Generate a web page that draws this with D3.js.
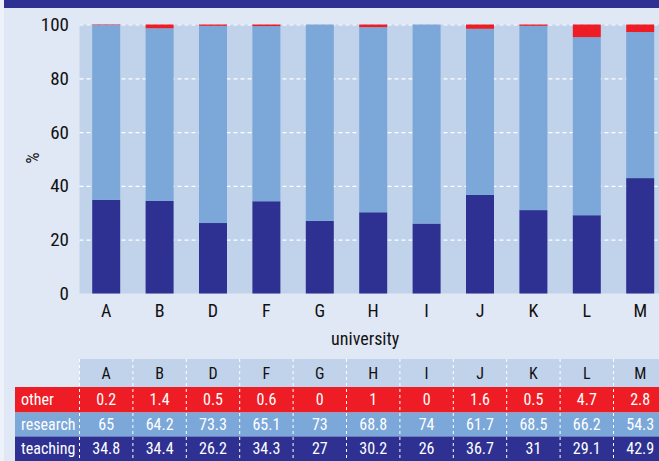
<!DOCTYPE html>
<html>
<head>
<meta charset="utf-8">
<script src="https://cdn.jsdelivr.net/npm/d3@7"></script>
<style>
  html, body { margin: 0; padding: 0; background: #e1e8f5; }
  svg { display: block; }
  text { font-family: "Liberation Sans Narrow", "Arial Narrow", "Roboto Condensed", "Liberation Sans", sans-serif; }
</style>
</head>
<body>
<svg id="chart" width="659" height="461"></svg>
<script>
// Share of staff time by activity, per university (%)
const universities = ["A", "B", "D", "F", "G", "H", "I", "J", "K", "L", "M"];
const teaching = [34.8, 34.4, 26.2, 34.3, 27, 30.2, 26, 36.7, 31, 29.1, 42.9];
const research = [65, 64.2, 73.3, 65.1, 73, 68.8, 74, 61.7, 68.5, 66.2, 54.3];
const other    = [0.2, 1.4, 0.5, 0.6, 0, 1, 0, 1.6, 0.5, 4.7, 2.8];
const yTicks = [0, 20, 40, 60, 80, 100];

const colors = { teaching: "#2e3192", research: "#7ba7d9", other: "#ee1c25" };
const W = 659, H = 461;
const svg = d3.select("#chart");

// page background, top band and left edge
svg.append("rect").attr("width", W).attr("height", H).attr("fill", "#e1e8f5");
svg.append("rect").attr("width", W).attr("height", 8).attr("fill", "#2e3192");
svg.append("rect").attr("width", 4).attr("height", H).attr("fill", "#edf1f9");

const x = d3.scaleBand().domain(universities).range([79.5, 79.5 + 53.4 * universities.length]).padding(0);
const y = d3.scaleLinear().domain([0, 100]).range([293.5, 24.5]);
const barW = 28;

// plot area
svg.append("rect").attr("x", x.range()[0]).attr("y", y(100))
  .attr("width", x.range()[1] - x.range()[0]).attr("height", y(0) - y(100))
  .attr("fill", "#c1d2eb");

// gridlines
const yAxis = d3.axisLeft(y).tickValues(yTicks).tickSize(-(x.range()[1] - x.range()[0])).tickPadding(10);
const gy = svg.append("g").attr("transform", `translate(${x.range()[0]},0)`).call(yAxis);
gy.select(".domain").remove();
gy.selectAll(".tick line").attr("stroke", "#ffffff").attr("stroke-width", 1.2).attr("stroke-dasharray", "4,3")
  .filter(d => d === 0).remove();
gy.selectAll(".tick text").attr("font-size", 19).attr("fill", "#111").attr("dx", -0.5);

// stacked bars
const rows = universities.map((u, i) => ({ u, teaching: teaching[i], research: research[i], other: other[i] }));
const keys = ["teaching", "research", "other"];
const stack = d3.stack().keys(keys)(rows);
svg.append("g").selectAll("g").data(stack).join("g")
  .attr("fill", s => colors[s.key])
  .selectAll("rect").data(s => s).join("rect")
  .attr("x", d => x(d.data.u) + (x.bandwidth() - barW) / 2)
  .attr("y", d => y(d[1]))
  .attr("width", barW)
  .attr("height", d => y(d[0]) - y(d[1]));

// x axis labels
const xAxis = d3.axisBottom(x).tickSize(0).tickPadding(11);
const gx = svg.append("g").attr("transform", `translate(0,${y(0)})`).call(xAxis);
gx.select(".domain").remove();
gx.selectAll(".tick text").attr("font-size", 18).attr("fill", "#111");

// axis titles
svg.append("text").attr("x", x(universities[0]) + (x.range()[1] - x.range()[0]) / 2 - 8).attr("y", 345)
  .attr("text-anchor", "middle").attr("font-size", 18).attr("fill", "#111").text("university");
svg.append("text").attr("transform", `translate(39,158) rotate(-90)`)
  .attr("text-anchor", "middle").attr("font-size", 18).attr("fill", "#111").text("%");

// data table
const rowTop = [359, 387, 412.5, 436.5];
const rowBottom = [387, 412.5, 436.5, 461];
const tableRows = [
  { name: "other", values: other, fill: colors.other },
  { name: "research", values: research, fill: colors.research },
  { name: "teaching", values: teaching, fill: colors.teaching }
];
const table = svg.append("g");
table.append("rect").attr("x", x.range()[0]).attr("y", rowTop[0])
  .attr("width", x.range()[1] - x.range()[0]).attr("height", rowBottom[0] - rowTop[0]).attr("fill", "#c1d2eb");
table.selectAll("text.hdr").data(universities).join("text").attr("class", "hdr")
  .attr("x", d => x(d) + x.bandwidth() / 2).attr("y", (rowTop[0] + rowBottom[0]) / 2 + 5.5)
  .attr("text-anchor", "middle").attr("font-size", 16).attr("fill", "#111").text(d => d);

tableRows.forEach((r, i) => {
  const top = rowTop[i + 1], bot = rowBottom[i + 1];
  table.append("rect").attr("x", 15).attr("y", top).attr("width", x.range()[1] - 15).attr("height", bot - top).attr("fill", r.fill);
  table.append("text").attr("x", 21).attr("y", (top + bot) / 2 + 5.5)
    .attr("font-size", 16).attr("fill", "#ffffff").text(r.name);
  table.selectAll(null).data(universities).join("text")
    .attr("x", (d) => x(d) + x.bandwidth() / 2).attr("y", (top + bot) / 2 + 5.5)
    .attr("text-anchor", "middle").attr("font-size", 16).attr("fill", "#ffffff")
    .text((d, j) => r.values[j]);
});

// dashed column separators
table.selectAll("line.sep").data(universities).join("line").attr("class", "sep")
  .attr("x1", d => x(d)).attr("x2", d => x(d))
  .attr("y1", rowTop[0]).attr("y2", H)
  .attr("stroke", "#ffffff").attr("stroke-width", 1).attr("stroke-dasharray", "3,3");
</script>
</body>
</html>
